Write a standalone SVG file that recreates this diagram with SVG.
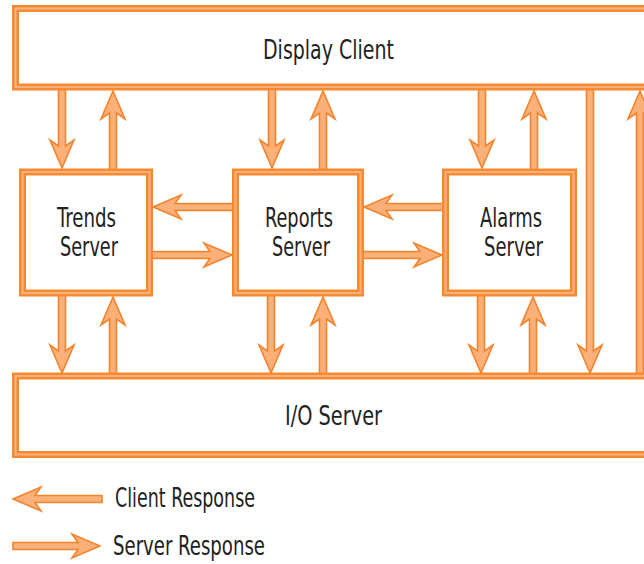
<svg xmlns="http://www.w3.org/2000/svg" width="644" height="564" viewBox="0 0 644 564">
<style>
.band{fill:none;stroke:#f5892f;stroke-width:7}
.stripe{fill:none;stroke:#fab07a;stroke-width:2.2}
.inner{fill:#ffffff}
.arr{fill:#fbb07a;stroke:#f4842c;stroke-width:1.6;stroke-linejoin:miter}
.t{font-family:"Liberation Sans Narrow","DejaVu Sans Condensed","Liberation Sans",sans-serif;font-stretch:condensed;font-size:27px;fill:#222222}
</style>
<rect width="644" height="564" fill="#ffffff"/>
<g id="connectors">
<polygon class="arr" points="58.5,88 65.5,88 65.5,146 74,140 62,168 50,140 58.5,146"/>
<polygon class="arr" points="268.5,88 275.5,88 275.5,146 284,140 272,168 260,140 268.5,146"/>
<polygon class="arr" points="478.5,88 485.5,88 485.5,146 494,140 482,168 470,140 478.5,146"/>
<polygon class="arr" points="109.5,172 116.5,172 116.5,113 125,119 113,91 101,119 109.5,113"/>
<polygon class="arr" points="319.5,172 326.5,172 326.5,113 335,119 323,91 311,119 319.5,113"/>
<polygon class="arr" points="530.5,172 537.5,172 537.5,113 546,119 534,91 522,119 530.5,113"/>
<polygon class="arr" points="58.5,293 65.5,293 65.5,351 74,345 62,373 50,345 58.5,351"/>
<polygon class="arr" points="267.5,293 274.5,293 274.5,351 283,345 271,373 259,345 267.5,351"/>
<polygon class="arr" points="477.5,293 484.5,293 484.5,351 493,345 481,373 469,345 477.5,351"/>
<polygon class="arr" points="109.5,376 116.5,376 116.5,319 125,325 113,297 101,325 109.5,319"/>
<polygon class="arr" points="319.5,376 326.5,376 326.5,319 335,325 323,297 311,325 319.5,319"/>
<polygon class="arr" points="529.5,376 536.5,376 536.5,319 545,325 533,297 521,325 529.5,319"/>
<polygon class="arr" points="586.5,87 593.5,87 593.5,351 602,345 590,373 578,345 586.5,351"/>
<polygon class="arr" points="636.5,376 643.5,376 643.5,113 652,119 640,91 628,119 636.5,113"/>
<polygon class="arr" points="153,207 181,195 175,203.5 236,203.5 236,210.5 175,210.5 181,219"/>
<polygon class="arr" points="364,207 392,195 386,203.5 446,203.5 446,210.5 386,210.5 392,219"/>
<polygon class="arr" points="232,255 204,243 210,251.5 149,251.5 149,258.5 210,258.5 204,267"/>
<polygon class="arr" points="442,255 414,243 420,251.5 360,251.5 360,258.5 420,258.5 414,267"/>
</g>
<g id="display-client">
<rect class="inner" x="19" y="12" width="640" height="71.5"/>
<rect class="band" x="15.5" y="8.5" width="650" height="78.5"/>
<rect class="stripe" x="15.5" y="8.5" width="650" height="78.5"/>
<text class="t" x="263" y="59" textLength="131" lengthAdjust="spacingAndGlyphs">Display Client</text>
</g>
<g id="trends-server">
<rect class="inner" x="26" y="175.5" width="120" height="114"/>
<rect class="band" x="22.5" y="172" width="127" height="121"/>
<rect class="stripe" x="22.5" y="172" width="127" height="121"/>
<text class="t" x="57" y="227" textLength="59" lengthAdjust="spacingAndGlyphs">Trends</text>
<text class="t" x="60" y="256" textLength="58" lengthAdjust="spacingAndGlyphs">Server</text>
</g>
<g id="reports-server">
<rect class="inner" x="239" y="175.5" width="118" height="114"/>
<rect class="band" x="235.5" y="172" width="125" height="121"/>
<rect class="stripe" x="235.5" y="172" width="125" height="121"/>
<text class="t" x="265" y="227" textLength="68" lengthAdjust="spacingAndGlyphs">Reports</text>
<text class="t" x="272" y="256" textLength="58" lengthAdjust="spacingAndGlyphs">Server</text>
</g>
<g id="alarms-server">
<rect class="inner" x="449" y="175.5" width="121" height="114"/>
<rect class="band" x="445.5" y="172" width="128" height="121"/>
<rect class="stripe" x="445.5" y="172" width="128" height="121"/>
<text class="t" x="480" y="227" textLength="62" lengthAdjust="spacingAndGlyphs">Alarms</text>
<text class="t" x="484" y="256" textLength="59" lengthAdjust="spacingAndGlyphs">Server</text>
</g>
<g id="io-server">
<rect class="inner" x="19" y="379.5" width="640" height="71.5"/>
<rect class="band" x="15.5" y="376" width="650" height="78.5"/>
<rect class="stripe" x="15.5" y="376" width="650" height="78.5"/>
<text class="t" x="285" y="425" textLength="97" lengthAdjust="spacingAndGlyphs">I/O Server</text>
</g>
<g id="legend">
<polygon class="arr" points="13,499 41,487 35,495.5 102,495.5 102,502.5 35,502.5 41,511"/>
<text class="t" x="115" y="507" textLength="140" lengthAdjust="spacingAndGlyphs">Client Response</text>
<polygon class="arr" points="100,546 72,534 78,542.5 13,542.5 13,549.5 78,549.5 72,558"/>
<text class="t" x="113" y="555" textLength="152" lengthAdjust="spacingAndGlyphs">Server Response</text>
</g>
</svg>
